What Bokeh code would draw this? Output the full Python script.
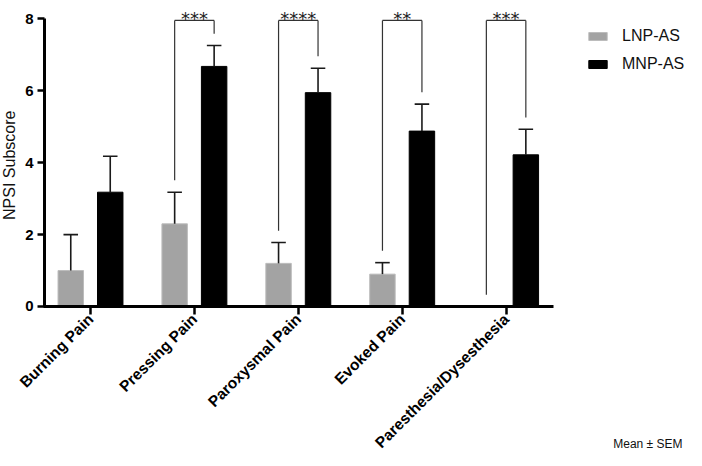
import numpy as np
from bokeh.plotting import figure
from bokeh.models import Range1d, FixedTicker, Legend, LegendItem, ColumnDataSource
from bokeh.core.properties import value
from bokeh.embed import file_html
from bokeh.resources import INLINE

categories = ["Burning Pain", "Pressing Pain", "Paroxysmal Pain", "Evoked Pain", "Paresthesia/Dysesthesia"]
lnp_mean = [1.0, 2.3, 1.2, 0.9, 0.0]
lnp_sem = [1.0, 0.88, 0.58, 0.32, 0.0]
mnp_mean = [3.18, 6.68, 5.95, 4.88, 4.22]
mnp_sem = [1.0, 0.58, 0.68, 0.75, 0.71]
sig_labels = ["", "***", "****", "**", "***"]
y_ticks = [0, 2, 4, 6, 8]
series_names = ["LNP-AS", "MNP-AS"]
y_title = "NPSI Subscore"
footnote = "Mean ± SEM"

FONT = "Liberation Sans"
GRAY = "#a3a3a3"
DODGE = 0.19
BAR_W = 0.245
CAP_W = 0.14
GAP = 0.33
BRACKET_TOP = 7.96
X0, X1 = -0.8662, 5.7363      # visible x span (category units)
Y0, Y1 = -4.007, 8.514        # visible y span (score units)
AX_X = -0.4427                # where the y axis sits
AX_XEND = 4.456               # end of the x axis line

xi = np.arange(len(categories))
lm = np.array(lnp_mean); ls = np.array(lnp_sem)
mm = np.array(mnp_mean); ms = np.array(mnp_sem)

p = figure(width=686, height=450,
           x_range=Range1d(X0, X1), y_range=Range1d(Y0, Y1),
           output_backend="svg", toolbar_location=None, min_border=0)
p.outline_line_color = None
p.xgrid.visible = False
p.ygrid.visible = False
p.background_fill_color = "white"

src_l = ColumnDataSource(dict(x=xi - DODGE, top=lm))
src_m = ColumnDataSource(dict(x=xi + DODGE, top=mm))
r_l = p.vbar(x="x", top="top", bottom=0, width=BAR_W, source=src_l,
             fill_color=GRAY, line_color="#bcbcbc", line_width=1)
r_m = p.vbar(x="x", top="top", bottom=0, width=BAR_W, source=src_m,
             fill_color="black", line_color="black", line_width=1)

# error bars (upper only)
for centers, means, sems in ((xi - DODGE, lm, ls), (xi + DODGE, mm, ms)):
    mask = sems > 0
    cx = centers[mask]; y0 = means[mask]; y1 = means[mask] + sems[mask]
    p.segment(x0=cx, y0=y0, x1=cx, y1=y1, line_color="#1a1a1a", line_width=1.6)
    p.segment(x0=cx - CAP_W / 2, y0=y1, x1=cx + CAP_W / 2, y1=y1, line_color="#1a1a1a", line_width=1.6)

# significance brackets
idx = np.array([i for i, s in enumerate(sig_labels) if s])
lx = idx - DODGE; rx = idx + DODGE
l_bot = lm[idx] + ls[idx] + GAP
r_bot = mm[idx] + ms[idx] + GAP
top = np.full(len(idx), BRACKET_TOP)
p.segment(x0=lx, y0=l_bot, x1=lx, y1=top, line_color="#333333", line_width=1.2)
p.segment(x0=lx, y0=top, x1=rx, y1=top, line_color="#333333", line_width=1.2)
p.segment(x0=rx, y0=top, x1=rx, y1=r_bot, line_color="#333333", line_width=1.2)
p.text(x=idx, y=np.full(len(idx), 8.02), text=[sig_labels[i] for i in idx],
       text_align="center", text_baseline="alphabetic", text_font=value("DejaVu Sans"),
       text_font_size="18px", text_color="#222222")

# axes, pinned inside the frame
xa = p.xaxis[0]
xa.fixed_location = 0
xa.ticker = FixedTicker(ticks=list(xi))
xa.major_label_overrides = {int(i): c for i, c in zip(xi, categories)}
xa.major_label_orientation = np.pi / 4
xa.bounds = (AX_X - 0.014, AX_XEND)
xa.axis_line_width = 3
xa.major_tick_line_width = 2.5
xa.major_tick_out = 8
xa.major_tick_in = 0
xa.minor_tick_line_color = None
xa.major_label_text_font = FONT
xa.major_label_text_font_style = "bold"
xa.major_label_text_font_size = "15.5px"
xa.major_label_text_color = "black"
xa.major_label_standoff = 2

ya = p.yaxis[0]
ya.fixed_location = AX_X
ya.ticker = FixedTicker(ticks=y_ticks)
ya.bounds = (0, 8)
ya.axis_line_width = 3
ya.major_tick_line_width = 2.5
ya.major_tick_out = 7
ya.major_tick_in = 0
ya.minor_tick_line_color = None
ya.major_label_text_font = FONT
ya.major_label_text_font_style = "bold"
ya.major_label_text_font_size = "15px"
ya.major_label_text_color = "black"
ya.major_label_standoff = 4

# axis title and footnote
p.text(x=[-0.7796], y=[3.93], text=[y_title], angle=np.pi / 2,
       text_align="center", text_baseline="middle", text_font=value(FONT),
       text_font_size="16px", text_color="#111111")
p.text(x=[5.698], y=[-3.84], text=[footnote],
       text_align="right", text_baseline="middle", text_font=value(FONT),
       text_font_size="12px", text_color="#111111")

legend = Legend(items=[LegendItem(label=series_names[0], renderers=[r_l]),
                       LegendItem(label=series_names[1], renderers=[r_m])],
                location=(586, 376), orientation="vertical",
                glyph_width=23, glyph_height=10, label_standoff=13, label_height=20,
                spacing=8, padding=0, margin=0,
                label_text_font=FONT, label_text_font_size="16px", label_text_color="#111111",
                border_line_color=None, background_fill_alpha=0)
p.add_layout(legend)

open("out.html", "w").write(file_html(p, INLINE))
